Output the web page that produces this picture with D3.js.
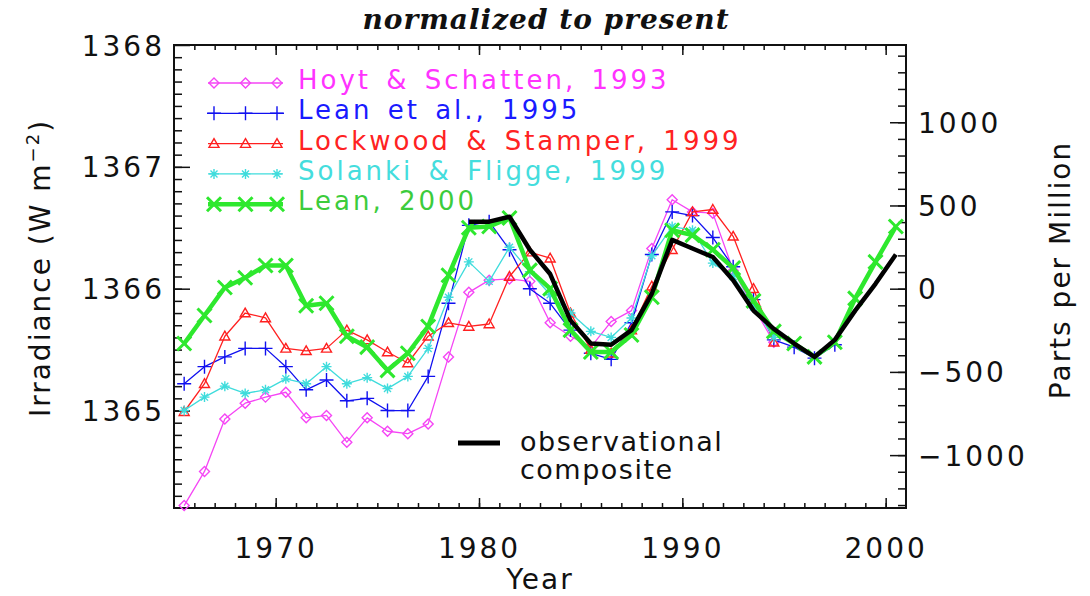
<!DOCTYPE html>
<html>
<head>
<meta charset="utf-8">
<script src="https://cdn.jsdelivr.net/npm/d3@7"></script>
<style>
  body { margin: 0; background: #fff; }
  text { font-family: "DejaVu Sans", sans-serif; fill: #111; }
</style>
</head>
<body>
<div id="chart"></div>
<script>
const width = 1090;
const height = 596;

// annual means, plotted at mid-year
const years = d3.range(1965, 2001);
const compositeYears = d3.range(1979, 2001);
const presentValue = 1366;

const hoyt = [1364.22, 1364.50, 1364.93, 1365.06, 1365.11, 1365.15, 1364.94, 1364.96, 1364.74, 1364.94,
    1364.83, 1364.81, 1364.89, 1365.44, 1365.97, 1366.07, 1366.08, 1366.06, 1365.72, 1365.61,
    1365.52, 1365.73, 1365.82, 1366.33, 1366.73, 1366.63, 1366.62, 1366.15, 1365.85, 1365.56];
const lean1995 = [1365.22, 1365.36, 1365.44, 1365.51, 1365.51, 1365.36, 1365.17, 1365.25, 1365.08, 1365.10,
    1365.00, 1365.00, 1365.28, 1365.88, 1366.52, 1366.55, 1366.32, 1366.00, 1365.88, 1365.66,
    1365.47, 1365.42, 1365.72, 1366.28, 1366.63, 1366.60, 1366.42, 1366.18, 1365.91, 1365.58,
    1365.52, 1365.43, 1365.54];
const lockwood = [1364.99, 1365.22, 1365.61, 1365.80, 1365.76, 1365.51, 1365.49, 1365.51, 1365.66, 1365.58,
    1365.48, 1365.39, 1365.61, 1365.72, 1365.69, 1365.71, 1366.10, 1366.30, 1366.25, 1365.80,
    1365.50, 1365.47, 1365.66, 1366.02, 1366.32, 1366.63, 1366.65, 1366.43, 1366.00, 1365.56];
const solanki = [1365.00, 1365.11, 1365.20, 1365.14, 1365.17, 1365.26, 1365.22, 1365.36, 1365.22, 1365.27,
    1365.18, 1365.28, 1365.51, 1365.93, 1366.22, 1366.06, 1366.34, 1366.14, 1365.95, 1365.80,
    1365.65, 1365.60, 1365.76, 1366.27, 1366.51, 1366.48, 1366.21, 1366.10, 1365.85, 1365.60];
const lean2000 = [1365.55, 1365.78, 1366.01, 1366.09, 1366.19, 1366.19, 1365.86, 1365.88, 1365.61, 1365.52,
    1365.33, 1365.47, 1365.69, 1366.11, 1366.50, 1366.51, 1366.58, 1366.15, 1366.00, 1365.66,
    1365.48, 1365.48, 1365.62, 1365.93, 1366.48, 1366.44, 1366.32, 1366.17, 1365.90, 1365.65,
    1365.55, 1365.44, 1365.56, 1365.92, 1366.22, 1366.51];
const composite = [1366.55, 1366.55, 1366.59, 1366.32, 1366.12, 1365.74, 1365.55, 1365.54, 1365.66, 1365.96,
    1366.40, 1366.33, 1366.26, 1366.07, 1365.82, 1365.67, 1365.55, 1365.44, 1365.58, 1365.82,
    1366.04, 1366.28];

const seriesNames = ["Hoyt & Schatten, 1993", "Lean et al., 1995", "Lockwood & Stamper, 1999",
    "Solanki & Fligge, 1999", "Lean, 2000"];
const seriesValues = [hoyt, lean1995, lockwood, solanki, lean2000];
const seriesColors = ["#f545f5", "#1010f0", "#ff2020", "#3fdcdc", "#2ee82e"];
const textColors = ["#ff33ff", "#1a1aff", "#ff2222", "#44dddd", "#3ccc3c"];
const seriesMarkers = ["diamond", "plus", "triangle", "asterisk", "cross"];

const xTickMajor = [1970, 1980, 1990, 2000];
const yTickMajor = [1365, 1366, 1367, 1368];
const ppmTickMajor = [-1000, -500, 0, 500, 1000];

const plotLeft = 174, plotRight = 906, plotTop = 45, plotBottom = 508;

const x = d3.scaleLinear().domain([1965, 2001]).range([plotLeft, plotRight]);
const y = d3.scaleLinear().domain([1364.2, 1368]).range([plotBottom, plotTop]);
const yPpm = d3.scaleLinear()
    .domain(y.domain().map(v => (v - presentValue) / presentValue * 1e6))
    .range([plotBottom, plotTop]);

const svg = d3.select("#chart")
    .append("svg")
    .attr("width", width)
    .attr("height", height);

function markerPath(type, s) {
    if (type === "diamond") return `M0,${-s}L${s},0L0,${s}L${-s},0Z`;
    if (type === "plus") return `M${-s},0H${s}M0,${-s}V${s}`;
    if (type === "triangle") return `M0,${-s}L${s},${s * 0.75}L${-s},${s * 0.75}Z`;
    if (type === "asterisk") {
        const d = s * 0.7;
        return `M${-s},0H${s}M0,${-s}V${s}M${-d},${-d}L${d},${d}M${-d},${d}L${d},${-d}`;
    }
    return `M${-s},${-s}L${s},${s}M${-s},${s}L${s},${-s}`;
}

function styleFor(i) {
    const thick = i === 4;
    return {
        width: thick ? 4.5 : 1.3,
        size: thick ? 7 : (seriesMarkers[i] === "plus" ? 7 : 5),
        mwidth: thick ? 3 : 1.4
    };
}

// ---- axes ----
const minorYears = d3.range(1966, 2001);
const minorIrr = d3.range(13643, 13680).map(d => d / 10);
const minorPpm = d3.range(-1300, 1500, 100);

function addAxis(axis, transform) {
    const g = svg.append("g").attr("transform", transform).call(axis);
    g.select(".domain").remove();
    g.selectAll(".tick line").attr("stroke", "#111").attr("stroke-width", 1.5);
    return g;
}

// bottom
addAxis(d3.axisBottom(x).tickValues(minorYears).tickSize(-5).tickFormat(""), `translate(0,${plotBottom})`);
const xa = addAxis(d3.axisBottom(x).tickValues(xTickMajor).tickSize(-10).tickPadding(50).tickFormat(d3.format("d")),
    `translate(0,${plotBottom})`);
// top
addAxis(d3.axisTop(x).tickValues(minorYears).tickSize(-5).tickFormat(""), `translate(0,${plotTop})`);
addAxis(d3.axisTop(x).tickValues(xTickMajor).tickSize(-10).tickFormat(""), `translate(0,${plotTop})`);
// left
addAxis(d3.axisLeft(y).tickValues(minorIrr).tickSize(-8).tickFormat(""), `translate(${plotLeft},0)`);
const ya = addAxis(d3.axisLeft(y).tickValues(yTickMajor).tickSize(-16).tickPadding(9).tickFormat(d3.format("d")),
    `translate(${plotLeft},0)`);
// right (parts per million)
addAxis(d3.axisRight(yPpm).tickValues(minorPpm).tickSize(-8).tickFormat(""), `translate(${plotRight},0)`);
const pa = addAxis(d3.axisRight(yPpm).tickValues(ppmTickMajor).tickSize(-16).tickPadding(12).tickFormat(d3.format("d")),
    `translate(${plotRight},0)`);

[xa, ya, pa].forEach(g => g.selectAll(".tick text")
    .attr("fill", "#111")
    .style("font-size", "28px")
    .style("letter-spacing", "3px")
    .style("font-family", "DejaVu Sans, sans-serif"));
xa.selectAll(".tick text").attr("dy", "0");
ya.selectAll(".tick text").attr("dy", "0.36em");
pa.selectAll(".tick text").attr("dy", "0.36em");

svg.append("rect")
    .attr("x", plotLeft).attr("y", plotTop)
    .attr("width", plotRight - plotLeft).attr("height", plotBottom - plotTop)
    .attr("fill", "none").attr("stroke", "#111").attr("stroke-width", 2);

// ---- series ----
const line = d3.line().x(d => x(d[0] + 0.5)).y(d => y(d[1]));

seriesValues.forEach((vals, i) => {
    const st = styleFor(i);
    const pts = vals.map((v, k) => [years[k], v]);
    svg.append("path")
        .datum(pts)
        .attr("d", line)
        .attr("fill", "none")
        .attr("stroke", seriesColors[i])
        .attr("stroke-width", st.width)
        .attr("stroke-linejoin", "round");
    svg.append("g").selectAll("path")
        .data(pts)
        .enter()
        .append("path")
        .attr("transform", d => `translate(${x(d[0] + 0.5)},${y(d[1])})`)
        .attr("d", markerPath(seriesMarkers[i], st.size))
        .attr("fill", "none")
        .attr("stroke", seriesColors[i])
        .attr("stroke-width", st.mwidth);
});

svg.append("path")
    .datum(composite.map((v, k) => [compositeYears[k], v]))
    .attr("d", line)
    .attr("fill", "none")
    .attr("stroke", "#000")
    .attr("stroke-width", 4.5)
    .attr("stroke-linejoin", "round");

// ---- legend ----
const legend = svg.append("g");
seriesNames.forEach((name, i) => {
    const st = styleFor(i);
    const ry = 83 + i * 30.3;
    legend.append("line")
        .attr("x1", 208).attr("x2", 283).attr("y1", ry).attr("y2", ry)
        .attr("stroke", seriesColors[i]).attr("stroke-width", st.width);
    [214, 245.5, 277].forEach(mx => {
        legend.append("path")
            .attr("transform", `translate(${mx},${ry})`)
            .attr("d", markerPath(seriesMarkers[i], st.size))
            .attr("fill", "none")
            .attr("stroke", seriesColors[i])
            .attr("stroke-width", st.mwidth);
    });
    legend.append("text")
        .attr("x", 298).attr("y", ry + 6)
        .style("font-size", "26px")
        .style("letter-spacing", "3px")
        .style("word-spacing", "4px")
        .style("fill", textColors[i])
        .text(name);
});

svg.append("line")
    .attr("x1", 458).attr("x2", 500).attr("y1", 443).attr("y2", 443)
    .attr("stroke", "#000").attr("stroke-width", 5);
svg.append("text").attr("x", 520).attr("y", 451)
    .style("font-size", "27px").style("letter-spacing", "1.5px")
    .text("observational");
svg.append("text").attr("x", 520).attr("y", 479)
    .style("font-size", "27px").style("letter-spacing", "1.5px")
    .text("composite");

// ---- titles ----
svg.append("text")
    .attr("x", 546).attr("y", 29)
    .attr("text-anchor", "middle")
    .style("font-family", "DejaVu Serif, serif")
    .style("font-style", "italic")
    .style("font-weight", "bold")
    .style("font-size", "28px")
    .style("letter-spacing", "1px")
    .text("normalized to present");

svg.append("text")
    .attr("x", 540).attr("y", 589)
    .attr("text-anchor", "middle")
    .style("font-size", "28px")
    .style("letter-spacing", "2px")
    .text("Year");

const yl = svg.append("text")
    .attr("transform", "translate(50,268) rotate(-90)")
    .attr("text-anchor", "middle")
    .style("font-size", "28px")
    .style("letter-spacing", "2px");
yl.append("tspan").text("Irradiance (W m");
yl.append("tspan").attr("dy", -11).style("font-size", "18px").text("−2");
yl.append("tspan").attr("dy", 11).text(")");

svg.append("text")
    .attr("transform", "translate(1070,270) rotate(-90)")
    .attr("text-anchor", "middle")
    .style("font-size", "28px")
    .style("letter-spacing", "2px")
    .text("Parts per Million");
</script>
</body>
</html>
